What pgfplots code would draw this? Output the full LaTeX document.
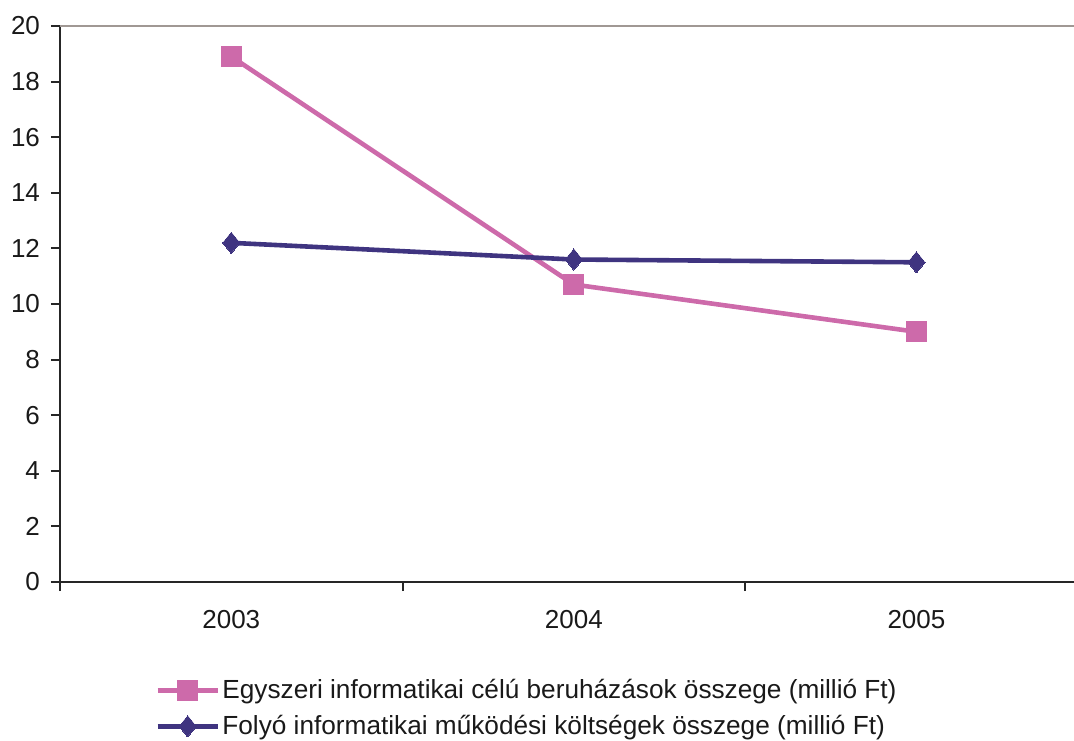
\documentclass[border=0pt]{standalone}
\usepackage{pgfplots}
\pgfplotsset{compat=1.18}
\usepackage{fontspec}
\setmainfont{Liberation Sans}

\definecolor{egyszeri}{RGB}{205,106,170}
\definecolor{folyo}{RGB}{63,52,128}
\definecolor{topline}{RGB}{160,152,148}

\begin{document}
\fontsize{13}{15.6}\selectfont
\begin{tikzpicture}
  % frame of the whole picture, lower-left corner of the plot area at (0,0)
  \useasboundingbox (-30pt,-79pt) rectangle (507pt,291pt);
  \begin{axis}[
      at={(0pt,0pt)}, anchor=south west,
      scale only axis,
      width=507pt, height=278pt,
      xmin=-0.5, xmax=2.46,
      ymin=0, ymax=20,
      axis x line*=bottom,
      axis y line*=left,
      axis line style={line width=1pt, black!85},
      every tick/.style={line width=1pt, black!85},
      tick align=outside,
      major tick length=4.5pt,
      ytick={0,2,...,18},
      extra y ticks={20},
      extra y tick style={grid=major, major grid style={topline, line width=0.9pt}},
      xtick={0,1,2},
      xticklabels={2003,2004,2005},
      minor xtick={-0.5,0.5,1.5},
      minor tick length=4.5pt,
      x tick style={draw=none},
      every minor x tick/.style={draw=black!85, line width=1pt},
      xticklabel style={yshift=-5pt},
      yticklabel style={xshift=-1pt},
      /pgf/number format/assume math mode=true,
      tick label style={font=\fontsize{13}{15.6}\selectfont, black!90},
      legend style={
        at={(0.0937,-0.169)}, anchor=north west,
        draw=none, fill=none, inner sep=0pt,
        font=\fontsize{13.1}{15.6}\selectfont,
        row sep=4pt,
        nodes={inner sep=1.2pt, text=black!90},
      },
      legend cell align=left,
      legend image code/.code={
        \draw[#1, mark repeat=2, mark phase=2]
          plot coordinates {(0pt,0pt) (15pt,0pt) (30pt,0pt)};
      },
      clip=false,
    ]
    % one-off investments
    \addplot[color=egyszeri, line width=2.3pt, mark=square*, mark size=5pt,
             mark options={solid, fill=egyszeri, draw=egyszeri, line width=0pt}]
      coordinates {(0,18.9) (1,10.7) (2,9.0)};
    \addlegendentry{Egyszeri informatikai célú beruházások összege (millió Ft)}
    % running costs
    \addplot[color=folyo, line width=2.3pt, mark=diamond*, mark size=5.3pt,
             mark options={solid, fill=folyo, draw=folyo, line width=0pt, xscale=1.08}]
      coordinates {(0,12.2) (1,11.6) (2,11.5)};
    \addlegendentry{Folyó informatikai működési költségek összege (millió Ft)}
  \end{axis}
\end{tikzpicture}
\end{document}
